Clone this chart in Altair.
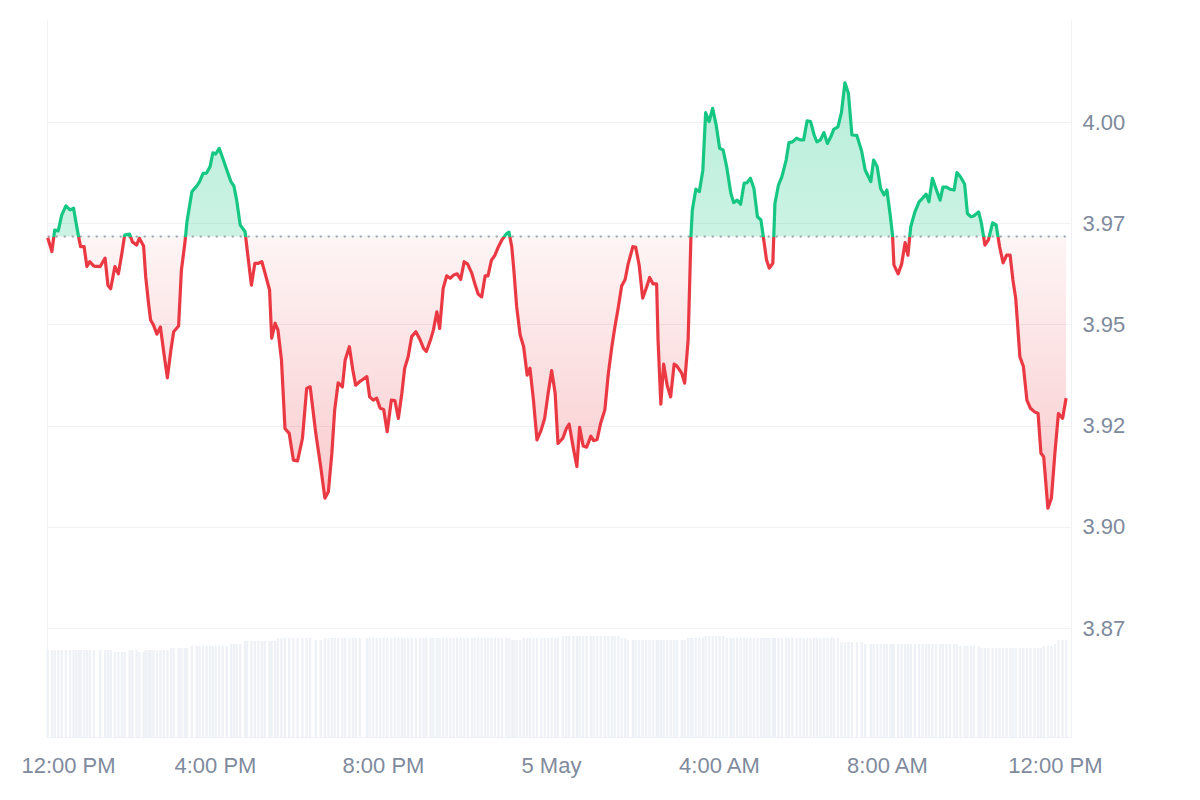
import altair as alt
import pandas as pd

# minutes after 12:00 PM, 4 May
minutes = [
    1, 7, 11, 16, 21, 27, 33, 38, 42, 46,
    48, 53, 57, 61, 67, 76, 83, 87, 91, 97,
    102, 107, 111, 118, 122, 128, 132, 138, 141, 145,
    148, 152, 157, 162, 167, 172, 177, 181, 188, 192,
    197, 200, 207, 214, 218, 223, 228, 233, 237, 241,
    246, 251, 257, 263, 267, 271, 276, 283, 286, 292,
    297, 302, 307, 311, 318, 321, 326, 330, 335, 340,
    346, 352, 358, 365, 371, 376, 384, 391, 397, 402,
    407, 411, 416, 422, 426, 432, 437, 441, 447, 457,
    461, 466, 471, 476, 481, 486, 492, 497, 502, 507,
    511, 516, 521, 527, 533, 538, 542, 548, 552, 557,
    561, 566, 571, 576, 581, 586, 591, 596, 601, 607,
    611, 616, 621, 626, 630, 635, 640, 645, 650, 656,
    660, 664, 667, 671, 676, 681, 686, 690, 695, 700,
    706, 711, 716, 721, 726, 730, 737, 742, 746, 752,
    757, 761, 766, 771, 777, 781, 786, 791, 797, 802,
    807, 811, 816, 821, 826, 830, 837, 841, 846, 851,
    856, 861, 866, 871, 873, 877, 881, 886, 891, 896,
    900, 907, 911, 916, 920, 922, 927, 932, 937, 941,
    946, 951, 956, 961, 966, 971, 977, 981, 986, 991,
    996, 1000, 1005, 1010, 1015, 1020, 1024, 1028, 1032, 1037,
    1040, 1045, 1050, 1056, 1060, 1065, 1071, 1076, 1081, 1086,
    1091, 1096, 1100, 1105, 1110, 1115, 1120, 1124, 1130, 1135,
    1140, 1145, 1150, 1157, 1164, 1169, 1177, 1181, 1186,
    1191, 1196, 1200, 1205, 1208, 1210, 1216, 1221, 1226, 1230,
    1234, 1240, 1246, 1251, 1256, 1260, 1265, 1270, 1276, 1280,
    1285, 1290, 1296, 1300, 1305, 1311, 1315, 1320, 1324, 1331,
    1335, 1340, 1345, 1351, 1356, 1361, 1366, 1371, 1376, 1380,
    1384, 1390, 1395, 1400, 1405, 1411, 1416, 1420, 1424, 1430,
    1435, 1440, 1445, 1451, 1456,
]

prices = [
    3.9714, 3.9680, 3.9733, 3.9731, 3.9770, 3.9793, 3.9783, 3.9787, 3.9746, 3.9709,
    3.9692, 3.9692, 3.9643, 3.9655, 3.9644, 3.9643, 3.9664, 3.9597, 3.9588, 3.9643,
    3.9625, 3.9676, 3.9721, 3.9723, 3.9704, 3.9696, 3.9713, 3.9694, 3.9618, 3.9553,
    3.9511, 3.9499, 3.9476, 3.9494, 3.9429, 3.9368, 3.9437, 3.9482, 3.9496, 3.9634,
    3.9701, 3.9754, 3.9828, 3.9842, 3.9853, 3.9873, 3.9874, 3.9890, 3.9924, 3.9921,
    3.9935, 3.9911, 3.9881, 3.9852, 3.9842, 3.9807, 3.9746, 3.9729, 3.9684, 3.9597,
    3.9651, 3.9651, 3.9655, 3.9630, 3.9585, 3.9466, 3.9503, 3.9486, 3.9412, 3.9243,
    3.9231, 3.9165, 3.9163, 3.9219, 3.9342, 3.9346, 3.9231, 3.9149, 3.9071, 3.9087,
    3.9182, 3.9289, 3.9356, 3.9346, 3.9412, 3.9445, 3.9387, 3.9350, 3.9359, 3.9371,
    3.9321, 3.9313, 3.9318, 3.9293, 3.9290, 3.9235, 3.9313, 3.9312, 3.9268, 3.9330,
    3.9392, 3.9420, 3.9470, 3.9482, 3.9462, 3.9441, 3.9433, 3.9462, 3.9486, 3.9531,
    3.9490, 3.9589, 3.9620, 3.9614, 3.9622, 3.9625, 3.9611, 3.9655, 3.9649, 3.9626,
    3.9602, 3.9575, 3.9568, 3.9620, 3.9620, 3.9659, 3.9671, 3.9692, 3.9709, 3.9723,
    3.9728, 3.9692, 3.9634, 3.9544, 3.9474, 3.9445, 3.9375, 3.9392, 3.9313, 3.9215,
    3.9239, 3.9268, 3.9330, 3.9386, 3.9330, 3.9206, 3.9219, 3.9243, 3.9254, 3.9194,
    3.9149, 3.9246, 3.9200, 3.9197, 3.9224, 3.9213, 3.9216, 3.9256, 3.9289, 3.9379,
    3.9445, 3.9490, 3.9540, 3.9595, 3.9611, 3.9647, 3.9692, 3.9691, 3.9647, 3.9565,
    3.9589, 3.9616, 3.9600, 3.9600, 3.9462, 3.9303, 3.9402, 3.9350, 3.9321, 3.9402,
    3.9397, 3.9379, 3.9355, 3.9462, 3.9717, 3.9783, 3.9834, 3.9828, 3.9881, 4.0023,
    4.0001, 4.0034, 3.9993, 3.9935, 3.9931, 3.9890, 3.9824, 3.9801, 3.9807, 3.9797,
    3.9849, 3.9850, 3.9861, 3.9836, 3.9766, 3.9758, 3.9709, 3.9659, 3.9639, 3.9651,
    3.9799, 3.9844, 3.9865, 3.9906, 3.9949, 3.9951, 3.9960, 3.9956, 3.9956, 4.0003,
    4.0001, 3.9968, 3.9951, 3.9956, 3.9974, 3.9947, 3.9964, 3.9982, 3.9988, 4.0023,
    4.0097, 4.0071, 3.9968, 3.9967, 3.9927, 3.9881, 3.9853, 3.9906, 3.9890,
    3.9836, 3.9820, 3.9832, 3.9766, 3.9721, 3.9647, 3.9625, 3.9649, 3.9702, 3.9671,
    3.9741, 3.9778, 3.9803, 3.9812, 3.9822, 3.9803, 3.9861, 3.9836, 3.9807, 3.9839,
    3.9839, 3.9834, 3.9832, 3.9875, 3.9865, 3.9847, 3.9774, 3.9766, 3.9768, 3.9778,
    3.9750, 3.9696, 3.9709, 3.9751, 3.9746, 3.9692, 3.9652, 3.9671, 3.9671, 3.9610,
    3.9565, 3.9420, 3.9396, 3.9313, 3.9293, 3.9284, 3.9280, 3.9182, 3.9173, 3.9046,
    3.9071, 3.9182, 3.9280, 3.9268, 3.9318,
]

# trading volume (millions)
volumes = [
    8.7, 8.7, 8.7, 8.7, 8.7, 8.7, 8.7, 8.7, 8.7, 8.7,
    8.7, 8.7, 8.7, 8.7, 8.7, 8.7, 8.7, 8.7, 8.7, 8.5,
    8.5, 8.5, 8.5, 8.7, 8.7, 8.7, 8.5, 8.5, 8.7, 8.7,
    8.7, 8.7, 8.7, 8.7, 8.7, 8.7, 8.9, 8.9, 8.9, 8.9,
    8.9, 8.9, 9.1, 9.1, 9.1, 9.1, 9.1, 9.1, 9.1, 9.1,
    9.1, 9.1, 9.1, 9.3, 9.3, 9.3, 9.3, 9.6, 9.6, 9.6,
    9.6, 9.6, 9.6, 9.6, 9.6, 9.6, 9.6, 9.9, 9.9, 9.9,
    9.9, 9.9, 9.9, 9.9, 9.9, 9.9, 9.7, 9.7, 9.9, 9.9,
    9.9, 9.9, 9.9, 9.9, 9.9, 9.9, 9.9, 9.9, 9.9, 9.9,
    9.9, 9.9, 9.9, 9.9, 9.9, 9.9, 9.9, 9.9, 9.9, 9.9,
    9.9, 9.9, 9.9, 9.9, 9.9, 9.9, 9.9, 9.9, 9.9, 9.9,
    9.9, 9.9, 9.9, 9.9, 9.9, 9.9, 9.9, 9.9, 9.9, 9.9,
    9.9, 9.9, 9.9, 9.9, 9.9, 9.9, 9.9, 9.9, 9.9, 9.9,
    9.9, 9.7, 9.7, 9.7, 9.7, 9.9, 9.9, 9.9, 9.9, 9.9,
    9.9, 9.9, 9.9, 9.9, 9.9, 9.9, 10.1, 10.1, 10.1, 10.1,
    10.1, 10.1, 10.1, 10.1, 10.1, 10.1, 10.1, 10.1, 10.1, 10.1,
    10.1, 10.1, 10.1, 9.9, 9.9, 9.7, 9.7, 9.7, 9.7, 9.7,
    9.7, 9.7, 9.7, 9.7, 9.7, 9.7, 9.7, 9.7, 9.7, 9.7,
    9.7, 9.7, 9.7, 9.9, 9.9, 9.9, 9.9, 9.9, 9.9, 10.1,
    10.1, 10.1, 10.1, 10.1, 10.1, 9.9, 9.9, 9.9, 9.9, 9.9,
    9.9, 9.9, 9.9, 9.9, 9.9, 9.9, 9.9, 9.9, 9.9, 9.9,
    9.9, 9.9, 9.9, 9.9, 9.9, 9.9, 9.9, 9.9, 9.9, 9.9,
    9.9, 9.9, 9.9, 9.9, 9.9, 9.9, 9.9, 9.9, 9.9, 9.5,
    9.5, 9.5, 9.5, 9.5, 9.5, 9.3, 9.3, 9.3, 9.3,
    9.3, 9.3, 9.3, 9.3, 9.3, 9.3, 9.3, 9.3, 9.3, 9.3,
    9.3, 9.3, 9.3, 9.3, 9.3, 9.3, 9.3, 9.3, 9.3, 9.3,
    9.3, 9.3, 9.3, 9.3, 9.1, 9.1, 9.1, 9.1, 9.1, 9.1,
    8.9, 8.9, 8.9, 8.9, 8.9, 8.9, 8.9, 8.9, 8.9, 8.9,
    8.9, 8.9, 8.9, 8.9, 8.9, 8.9, 8.9, 8.9, 9.1, 9.1,
    9.1, 9.3, 9.7, 9.7, 9.7,
]

base_price = 3.9717
y_ticks = [3.875, 3.9, 3.925, 3.95, 3.975, 4.0]
y_domain = [3.8481, 4.0252]
vol_domain = [0, 71.7]

GREEN = "#16c784"
RED = "#ea3943"
GRID = "#eff1f4"
LABEL = "#808a9d"
FONT = "Liberation Sans"

start = pd.Timestamp("2025-05-04 12:00:00")
df = pd.DataFrame({
    "t": start + pd.to_timedelta(minutes, unit="m"),
    "price": prices,
    "vol": volumes,
})
df["base"] = base_price

pmax, pmin = max(prices), min(prices)
f = (pmax - base_price) / (pmax - pmin)

line_grad = alt.Gradient(
    gradient="linear", x1=0, x2=0, y1=0, y2=1,
    stops=[
        alt.GradientStop(offset=0, color=GREEN),
        alt.GradientStop(offset=f, color=GREEN),
        alt.GradientStop(offset=f, color=RED),
        alt.GradientStop(offset=1, color=RED),
    ],
)
area_grad = alt.Gradient(
    gradient="linear", x1=0, x2=0, y1=0, y2=1,
    stops=[
        alt.GradientStop(offset=0, color="rgba(22,199,132,0.30)"),
        alt.GradientStop(offset=f, color="rgba(22,199,132,0.22)"),
        alt.GradientStop(offset=f, color="rgba(234,57,67,0.05)"),
        alt.GradientStop(offset=1, color="rgba(234,57,67,0.27)"),
    ],
)

x_ticks = [
    alt.DateTime(year=2025, month=5, date=4, hours=12),
    alt.DateTime(year=2025, month=5, date=4, hours=16),
    alt.DateTime(year=2025, month=5, date=4, hours=20),
    alt.DateTime(year=2025, month=5, date=5, hours=0),
    alt.DateTime(year=2025, month=5, date=5, hours=4),
    alt.DateTime(year=2025, month=5, date=5, hours=8),
    alt.DateTime(year=2025, month=5, date=5, hours=12),
]
x_scale = alt.Scale(
    domain=[alt.DateTime(year=2025, month=5, date=4, hours=12),
            alt.DateTime(year=2025, month=5, date=5, hours=12, minutes=23)],
    nice=False,
    padding=0,
)
x_axis = alt.Axis(
    values=x_ticks,
    labelExpr="hours(datum.value) == 0 ? timeFormat(datum.value, '%-d %b') : timeFormat(datum.value, '%-I:%M %p')",
    grid=False, ticks=False, domain=True, domainColor=GRID, domainWidth=1,
    labelFont=FONT, labelFontSize=22, labelColor=LABEL, labelPadding=18,
    labelFlush=False,
    labelOffset={"condition": {"test": "datum.index == 0", "value": 21}, "value": 0},
    title=None,
)
X = alt.X("t:T", scale=x_scale, axis=x_axis)

y_axis = alt.Axis(
    orient="right", values=y_ticks,
    labelExpr="format(floor(datum.value * 100 + 0.000001) / 100, '.2f')",
    grid=True, gridColor=GRID, gridWidth=1, ticks=False,
    domain=True, domainColor=GRID, domainWidth=1,
    labelFont=FONT, labelFontSize=22, labelColor=LABEL, labelPadding=11,
    title=None,
)
Y = alt.Y("price:Q", scale=alt.Scale(domain=y_domain, nice=False, zero=False), axis=y_axis)

vol = alt.Chart(df).mark_bar(size=2.3, color="#eef1f5").encode(
    x=X,
    y=alt.Y("vol:Q", scale=alt.Scale(domain=vol_domain, nice=False),
            axis=alt.Axis(orient="left", labels=False, ticks=False, grid=False,
                          domain=True, domainColor=GRID, domainWidth=1, title=None)),
)

area = alt.Chart(df).mark_area(fill=area_grad, line=False).encode(
    x=X, y=Y, y2="base:Q",
)

rule = alt.Chart(df).mark_rule(strokeDash=[2, 6], strokeWidth=2, color="#9aa0a9").encode(
    x=alt.X("min(t):T", scale=x_scale, axis=x_axis),
    x2="max(t):T",
    y=alt.datum(base_price),
)

line = alt.Chart(df).mark_line(stroke=line_grad, strokeWidth=3.2, strokeJoin="round").encode(
    x=X, y=Y,
)

price = alt.layer(area, rule, line)

chart = alt.layer(vol, price).resolve_scale(y="independent").properties(
    width=1024, height=717,
    autosize=alt.AutoSizeParams(type="none"),
    padding={"left": 39, "top": 12, "right": 100, "bottom": 60},
    background="white",
).configure_view(stroke=None)

chart.save("out.html", embed_options={"renderer": "svg", "actions": False})
